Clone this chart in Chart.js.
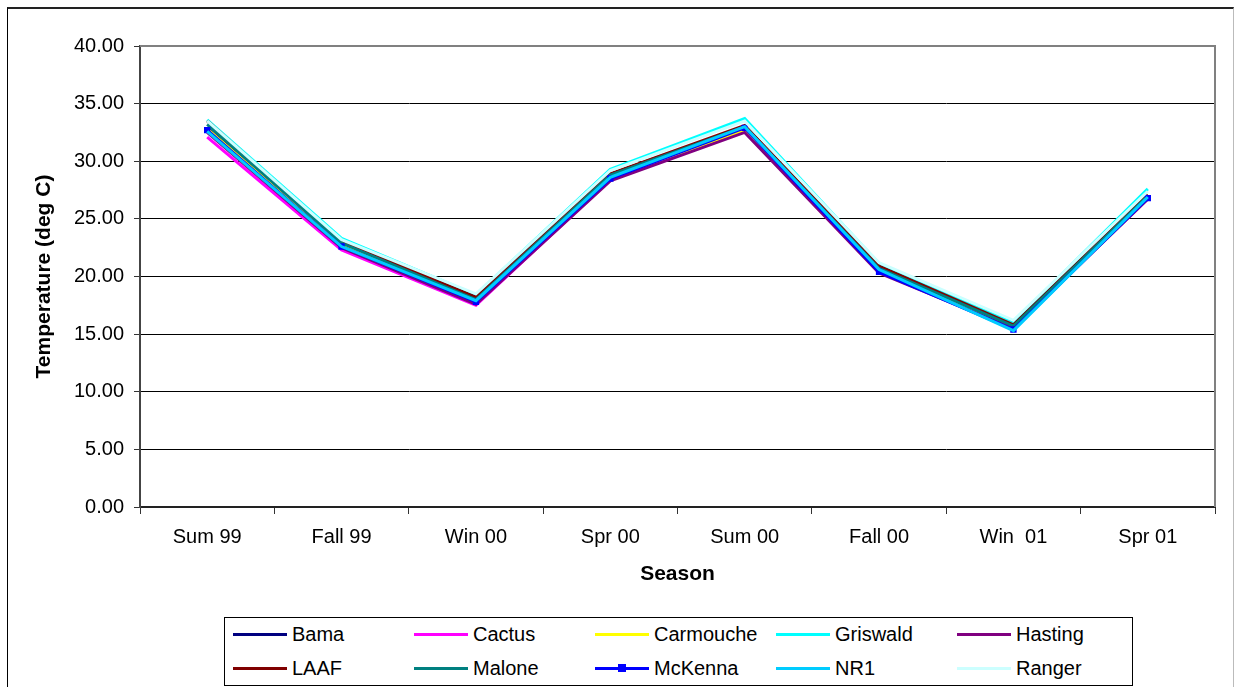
<!DOCTYPE html>
<html>
<head>
<meta charset="utf-8">
<script src="https://cdn.jsdelivr.net/npm/chart.js@4/dist/chart.umd.min.js"></script>
<style>
  html, body { margin: 0; padding: 0; background: #fff; }
  #wrap { position: relative; width: 1236px; height: 687px; overflow: hidden; font-family: "Liberation Sans", Arial, sans-serif; }
  #frame { position: absolute; left: 7px; top: 7px; width: 1225px; height: 700px; border-left: 1px solid #000; border-top: 2px solid #222; border-right: 1px solid #bbb; }
  #chartBox { position: absolute; left: 0; top: 0; width: 1236px; height: 687px; }
  #legend { position: absolute; left: 224px; top: 617px; width: 907px; height: 67px; border: 1px solid #000; background: #fff; }
  .item { position: absolute; height: 24px; display: flex; align-items: center; font-size: 20px; color: #000; }
  .swatch { position: relative; width: 54px; height: 3px; margin-right: 5px; }
  .swatch i { position: absolute; left: 23px; top: -3px; width: 8px; height: 8px; }
</style>
</head>
<body>
<div id="wrap">
  <div id="frame"></div>
  <div id="chartBox"><canvas id="tempChart" width="1236" height="687"></canvas></div>
  <div id="legend"></div>
</div>
<script>
// カテゴリ（季節）
const seasons = ['Sum 99', 'Fall 99', 'Win 00', 'Spr 00', 'Sum 00', 'Fall 00', 'Win  01', 'Spr 01'];

// 各地点の温度 (deg C)
const bama      = [32.9, 22.7, 17.9, 28.7, 32.9, 20.6, 15.6, 26.9];
const cactus    = [32.1, 22.3, 17.5, 28.4, 32.7, 20.4, 15.6, 26.8];
const carmouche = [32.8, 22.7, 17.9, 28.6, 32.7, 20.5, 15.6, 26.9];
const griswald  = [33.6, 23.3, 18.4, 29.3, 33.7, 21.1, 16.0, 27.6];
const hasting   = [32.5, 22.5, 17.6, 28.3, 32.5, 20.3, 15.5, 26.7];
const laaf      = [33.5, 23.1, 18.2, 28.9, 33.1, 20.9, 15.8, 27.1];
const malone    = [33.2, 22.9, 18.0, 28.8, 33.0, 20.7, 15.7, 27.0];
const mckenna   = [32.7, 22.6, 17.8, 28.5, 32.9, 20.4, 15.4, 26.8];
const nr1       = [32.6, 22.6, 17.9, 28.6, 33.0, 20.6, 15.3, 26.9];
const ranger    = [33.5, 23.2, 18.5, 29.2, 33.5, 21.2, 16.2, 27.4];

// y軸の目盛り
const yTicks = [0, 5, 10, 15, 20, 25, 30, 35, 40];

const seriesNames  = ['Bama', 'Cactus', 'Carmouche', 'Griswald', 'Hasting', 'LAAF', 'Malone', 'McKenna', 'NR1', 'Ranger'];
const seriesValues = [bama, cactus, carmouche, griswald, hasting, laaf, malone, mckenna, nr1, ranger];
const seriesColors = ['#000080', '#FF00FF', '#FFFF00', '#00FFFF', '#800080', '#800000', '#008080', '#0000FF', '#00CCFF', '#CCFFFF'];

// Excel風に後のシリーズが上に描かれるようにする
const datasets = seriesNames.map((name, i) => ({
    label: name,
    data: seriesValues[i],
    borderColor: seriesColors[i],
    backgroundColor: seriesColors[i],
    borderWidth: 3,
    pointRadius: name === 'McKenna' ? 4.5 : 0,
    pointStyle: 'rect',
    pointBorderWidth: 0,
    tension: 0,
    order: seriesNames.length - i
}));

// プロット領域の枠線
const areaBorder = {
    id: 'areaBorder',
    afterDraw(chart) {
        const { ctx, chartArea: a } = chart;
        ctx.save();
        ctx.strokeStyle = '#808080';
        ctx.lineWidth = 2;
        ctx.beginPath();
        ctx.moveTo(a.left, a.top);
        ctx.lineTo(a.right, a.top);
        ctx.lineTo(a.right, a.bottom);
        ctx.stroke();
        ctx.restore();
    }
};

const font = { family: '"Liberation Sans", Arial, sans-serif', size: 20 };

new Chart(document.getElementById('tempChart'), {
    type: 'line',
    data: { labels: seasons, datasets: datasets },
    plugins: [areaBorder],
    options: {
        responsive: false,
        animation: false,
        layout: { padding: { left: 28, right: 21, top: 46, bottom: 96 } },
        plugins: {
            legend: { display: false },
            tooltip: { enabled: false }
        },
        scales: {
            x: {
                offset: true,
                grid: { offset: true, drawOnChartArea: false, drawTicks: true, tickLength: 7, color: '#333', lineWidth: 1 },
                border: { color: '#222', width: 2 },
                ticks: { color: '#000', font: font, padding: 11, maxRotation: 0 },
                title: { display: true, text: 'Season', color: '#000', font: { ...font, size: 21, weight: 'bold' } },
                afterFit: s => { s.height = 84; }
            },
            y: {
                min: 0,
                max: 40,
                afterBuildTicks: s => { s.ticks = yTicks.map(v => ({ value: v })); },
                grid: { color: '#000', lineWidth: 1, tickLength: 6, tickColor: '#333' },
                border: { color: '#444', width: 2 },
                ticks: { color: '#000', font: font, padding: 10, callback: v => v.toFixed(2) },
                title: { display: true, text: 'Temperature (deg C)', color: '#000', font: { ...font, size: 21, weight: 'bold' } },
                afterFit: s => { s.width = 112; }
            }
        }
    }
});

// 凡例（5列×2行）
const legendEl = document.getElementById('legend');
seriesNames.forEach((name, i) => {
    const col = i % 5, row = Math.floor(i / 5);
    const item = document.createElement('div');
    item.className = 'item';
    item.style.left = (8 + col * 181) + 'px';
    item.style.top = (4 + row * 34) + 'px';
    const sw = document.createElement('span');
    sw.className = 'swatch';
    sw.style.background = seriesColors[i];
    if (name === 'McKenna') {
        const m = document.createElement('i');
        m.style.background = seriesColors[i];
        sw.appendChild(m);
    }
    item.appendChild(sw);
    item.appendChild(document.createTextNode(name));
    legendEl.appendChild(item);
});
</script>
</body>
</html>
